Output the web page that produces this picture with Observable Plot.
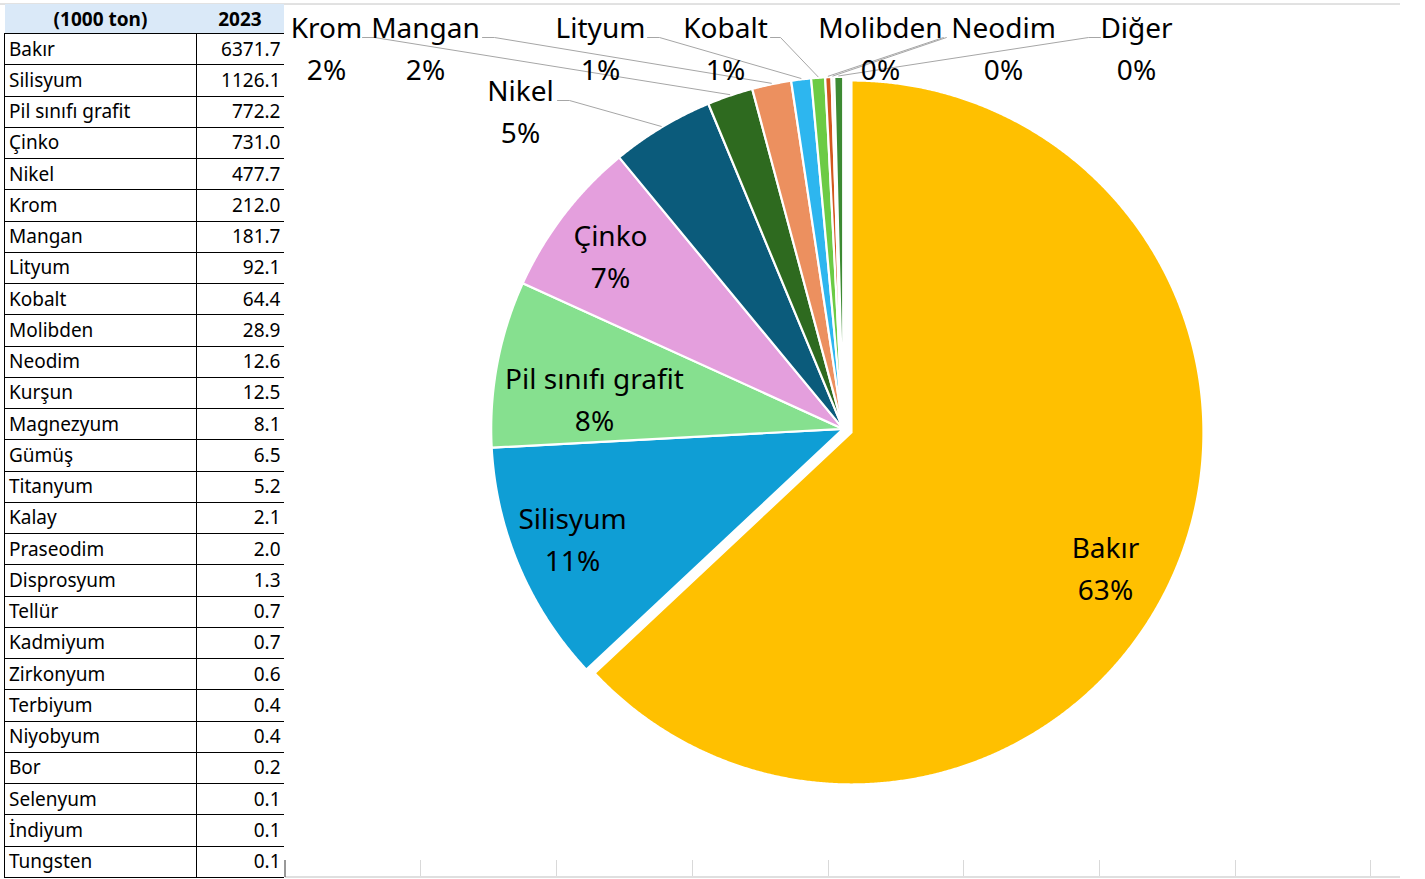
<!DOCTYPE html>
<html>
<head>
<meta charset="utf-8">
<script src="https://cdn.jsdelivr.net/npm/d3@7"></script>
<script src="https://cdn.jsdelivr.net/npm/@observablehq/plot@0.6"></script>
<style>
  html, body { margin: 0; padding: 0; background: #fff; overflow: hidden; }
  #wrap { position: relative; width: 1425px; height: 879px; }
  #chart { position: absolute; left: 0; top: 0; }
  #tbl { position: absolute; left: 4px; top: 4px; border-collapse: collapse;
         font-family: "Noto Sans", sans-serif; font-size: 19px; color: #000; table-layout: fixed; }
  #tbl th { background: #DAE9F8; height: 29px; padding: 0; font-weight: bold; text-align: center;
            border-bottom: 1px solid #000; }
  #tbl td { height: 30.26px; padding: 0; border-bottom: 1px solid #000; line-height: 1; white-space: nowrap; }
  #tbl td.n { border-left: 1px solid #000; border-right: 1px solid #000; padding-left: 4px; }
  #tbl td.v { text-align: right; padding-right: 3px; }
</style>
</head>
<body>
<div id="wrap">
  <div id="chart"></div>
  <table id="tbl"><colgroup><col style="width:192px"><col style="width:87px"></colgroup><thead></thead><tbody></tbody></table>
</div>
<script>
// ---------------- DATA ----------------
const tableHeader = ["(1000 ton)", "2023"];
const names = ["Bakır","Silisyum","Pil sınıfı grafit","Çinko","Nikel","Krom","Mangan","Lityum","Kobalt","Molibden","Neodim",
  "Kurşun","Magnezyum","Gümüş","Titanyum","Kalay","Praseodim","Disprosyum","Tellür","Kadmiyum","Zirkonyum","Terbiyum",
  "Niyobyum","Bor","Selenyum","İndiyum","Tungsten"];
const values2023 = [6371.7,1126.1,772.2,731.0,477.7,212.0,181.7,92.1,64.4,28.9,12.6,
  12.5,8.1,6.5,5.2,2.1,2.0,1.3,0.7,0.7,0.6,0.4,0.4,0.2,0.1,0.1,0.1];
const pieNamedCount = 11;           // first 11 minerals get their own slice
const otherName = "Diğer";
const sliceColors = ["#FFC000","#0F9ED5","#86E08F","#E49FDD","#0B5B7B","#2E6A1F","#EC905F","#2DB6EF","#6CCB45","#D2571E","#E8E8E8","#3D8A33"];

// ---------------- LAYOUT (pixels) ----------------
const pieCenter = {x: 842.7, y: 428.4};
const pieRadius = 352;
const explodeFirst = 9;
// label block centres and leader start (lx, ly) / horizontal elbow (ex)
const labelLayout = [
  {name: "Bakır",             x: 1105, y: 565},
  {name: "Silisyum",          x: 572,  y: 536},
  {name: "Pil sınıfı grafit", x: 594,  y: 396},
  {name: "Çinko",             x: 610,  y: 253},
  {name: "Nikel",             x: 520,  y: 108, lx: 557, ex: 569, ly: 100},
  {name: "Krom",              x: 326,  y: 45,  lx: 362, ex: 374, ly: 37},
  {name: "Mangan",            x: 425,  y: 45,  lx: 482, ex: 494, ly: 37},
  {name: "Lityum",            x: 600,  y: 45,  lx: 647, ex: 659, ly: 37},
  {name: "Kobalt",            x: 725,  y: 45,  lx: 770, ex: 780, ly: 37},
  {name: "Molibden",          x: 880,  y: 45,  lx: 943, ex: 943, ly: 37},
  {name: "Neodim",            x: 1003, y: 45,  lx: 946, ex: 946, ly: 37},
  {name: "Diğer",             x: 1136, y: 45,  lx: 1100, ex: 1088, ly: 37}
];
const sheetColumnLines = [420, 556, 692, 828, 963, 1099, 1235, 1370];

// ---------------- TABLE ----------------
const thead = document.querySelector("#tbl thead");
thead.innerHTML = `<tr><th>${tableHeader[0]}</th><th>${tableHeader[1]}</th></tr>`;
const tbody = document.querySelector("#tbl tbody");
names.forEach((n, i) => {
  const tr = document.createElement("tr");
  tr.innerHTML = `<td class="n">${n}</td><td class="v">${values2023[i].toFixed(1)}</td>`;
  tbody.appendChild(tr);
});

// ---------------- PIE ----------------
const pieData = names.slice(0, pieNamedCount).map((n, i) => ({name: n, value: values2023[i]}));
pieData.push({name: otherName, value: d3.sum(values2023.slice(pieNamedCount))});
const total = d3.sum(pieData, d => d.value);
let acc = 0;
pieData.forEach((d, i) => {
  d.a0 = acc / total * 2 * Math.PI;
  acc += d.value;
  d.a1 = acc / total * 2 * Math.PI;
  d.mid = (d.a0 + d.a1) / 2;
  d.color = sliceColors[i];
  d.pct = Math.round(d.value / total * 100) + "%";
});
// exploded first slice
const m0 = pieData[0].mid;
pieData.forEach((d, i) => {
  d.cx = pieCenter.x + (i === 0 ? explodeFirst * Math.sin(m0) : 0);
  d.cy = pieCenter.y - (i === 0 ? explodeFirst * Math.cos(m0) : 0);
});

const sliceRows = [];
pieData.forEach(d => {
  sliceRows.push({name: d.name, color: d.color, x: d.cx, y: d.cy});
  const n = Math.max(2, Math.ceil((d.a1 - d.a0) / (Math.PI / 720)));
  for (let k = 0; k <= n; k++) {
    const a = d.a0 + (d.a1 - d.a0) * k / n;
    sliceRows.push({name: d.name, color: d.color, x: d.cx + pieRadius * Math.sin(a), y: d.cy - pieRadius * Math.cos(a)});
  }
  sliceRows.push({name: d.name, color: d.color, x: d.cx, y: d.cy});
});

const byName = new Map(pieData.map(d => [d.name, d]));
const labelRows = labelLayout.map(l => ({...l, text: l.name + "\n" + byName.get(l.name).pct}));
const leaderRows = [];
labelLayout.filter(l => l.lx != null).forEach(l => {
  const d = byName.get(l.name);
  leaderRows.push({name: l.name, x: l.lx, y: l.ly});
  leaderRows.push({name: l.name, x: l.ex, y: l.ly});
  leaderRows.push({name: l.name, x: d.cx + (pieRadius + 1) * Math.sin(d.mid), y: d.cy - (pieRadius + 1) * Math.cos(d.mid)});
});

const chart = Plot.plot({
  width: 1425, height: 879, margin: 0,
  x: {domain: [0, 1425], range: [0, 1425], axis: null},
  y: {domain: [0, 879], range: [0, 879], axis: null},
  color: {type: "identity"},
  style: {fontFamily: "'Noto Sans', sans-serif", background: "#fff"},
  marks: [
    // sheet lines
    Plot.ruleY([3.5], {x1: 0, x2: 1400, stroke: "#C4C4C4", strokeWidth: 1}),
    Plot.ruleY([876.5], {x1: 285, x2: 1400, stroke: "#D4D4D4", strokeWidth: 1.5}),
    Plot.ruleX(sheetColumnLines, {y1: 860, y2: 876, stroke: "#D9D9D9", strokeWidth: 1}),
    Plot.ruleX([284.5], {y1: 860, y2: 877, stroke: "#333", strokeWidth: 1}),
    // slices
    Plot.line(sliceRows, {x: "x", y: "y", z: "name", fill: "color", stroke: "#fff", strokeWidth: 2.2, curve: "linear"}),
    // leader lines
    Plot.line(leaderRows, {x: "x", y: "y", z: "name", stroke: "#A6A6A6", strokeWidth: 1, curve: "linear"}),
    // labels
    Plot.text(labelRows, {x: "x", y: "y", text: "text", fontSize: 28, lineHeight: 1.5, fill: "#000", textAnchor: "middle"})
  ]
});
document.getElementById("chart").appendChild(chart);
</script>
</body>
</html>
